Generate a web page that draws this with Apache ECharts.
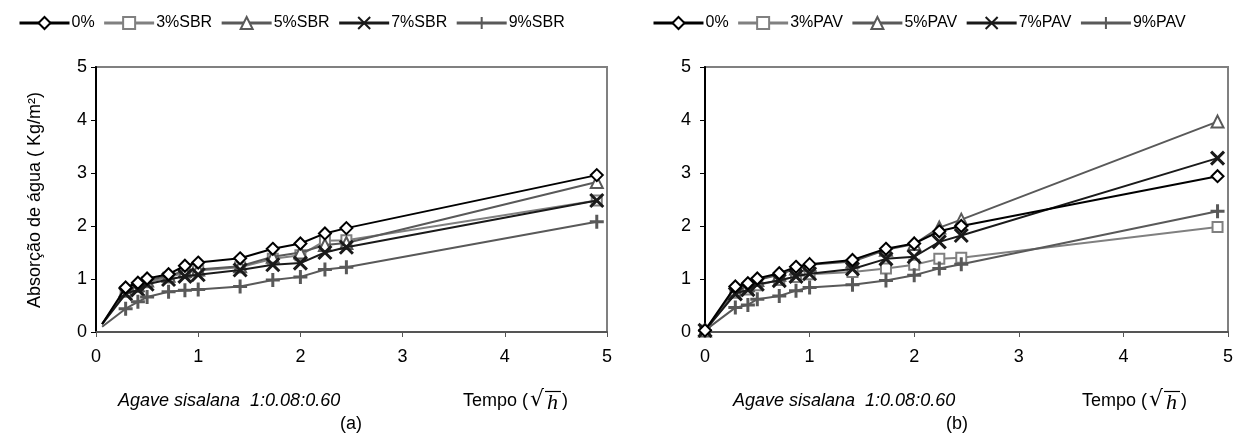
<!DOCTYPE html>
<html>
<head>
<meta charset="utf-8">
<script src="https://cdn.jsdelivr.net/npm/echarts@6/dist/echarts.min.js"></script>
<style>
  html, body { margin: 0; padding: 0; background: #fff; }
  #chart { width: 1241px; height: 436px; }
</style>
</head>
<body>
<div id="chart"></div>
<script>
// tempo (raiz de h)
var timeA = [0.06, 0.29, 0.41, 0.5, 0.71, 0.87, 1.0, 1.41, 1.73, 2.0, 2.24, 2.45, 4.9];
var timeB = [0, 0.29, 0.41, 0.5, 0.71, 0.87, 1.0, 1.41, 1.73, 2.0, 2.24, 2.45, 4.9];

// (a) SBR
var namesA = ['0%', '3%SBR', '5%SBR', '7%SBR', '9%SBR'];
var a0 = [0.15, 0.84, 0.93, 1.01, 1.09, 1.25, 1.31, 1.39, 1.57, 1.67, 1.86, 1.96, 2.96];
var a3 = [0.15, 0.76, 0.85, 0.94, 1.03, 1.12, 1.16, 1.22, 1.38, 1.45, 1.72, 1.73, 2.48];
var a5 = [0.15, 0.79, 0.88, 0.97, 1.06, 1.15, 1.18, 1.24, 1.42, 1.5, 1.64, 1.68, 2.83];
var a7 = [0.15, 0.72, 0.8, 0.9, 0.99, 1.05, 1.08, 1.17, 1.27, 1.3, 1.5, 1.6, 2.48];
var a9 = [0.1, 0.44, 0.57, 0.66, 0.76, 0.79, 0.8, 0.86, 0.98, 1.04, 1.18, 1.22, 2.08];

// (b) PAV
var namesB = ['0%', '3%PAV', '5%PAV', '7%PAV', '9%PAV'];
var b0 = [0.03, 0.86, 0.92, 1.01, 1.11, 1.23, 1.28, 1.36, 1.57, 1.67, 1.9, 2.0, 2.94];
var b3 = [0.03, 0.74, 0.8, 0.88, 0.98, 1.04, 1.09, 1.13, 1.2, 1.27, 1.38, 1.4, 1.98];
var b5 = [0.03, 0.8, 0.88, 0.98, 1.08, 1.2, 1.27, 1.33, 1.55, 1.66, 1.97, 2.12, 3.97];
var b7 = [0.03, 0.72, 0.8, 0.9, 0.97, 1.05, 1.1, 1.19, 1.38, 1.42, 1.7, 1.82, 3.28];
var b9 = [0.03, 0.46, 0.51, 0.62, 0.68, 0.78, 0.84, 0.89, 0.97, 1.07, 1.2, 1.28, 2.28];

var font = 'Liberation Sans, Arial, sans-serif';
var colors = ['#000000', '#808080', '#595959', '#1a1a1a', '#595959'];
var symbols = ['diamond', 'rect', 'triangle', 'path://M0,0L10,10M10,0L0,10', 'path://M5,0L5,10M0,5L10,5'];
var sizes = [12, 10, 12, 13, 14];
var borders = [2, 2, 2, 3, 3];

function mk(name, xs, ys, k, gi, hideFirst) {
  var data = [];
  for (var i = 0; i < xs.length; i++) {
    var item = { value: [xs[i], ys[i]] };
    if (i === 0 && hideFirst) item.symbol = 'none';
    data.push(item);
  }
  return {
    name: name,
    type: 'line',
    xAxisIndex: gi,
    yAxisIndex: gi,
    data: data,
    symbol: symbols[k],
    symbolSize: sizes[k],
    z: 2 + (k === 0 ? 5 : k),
    lineStyle: { color: colors[k], width: 2 },
    itemStyle: { color: '#fff', borderColor: colors[k], borderWidth: borders[k] },
    animation: false
  };
}

function xAxis(gi) {
  return {
    type: 'value', gridIndex: gi, min: 0, max: 5, interval: 1,
    axisLine: { show: true, lineStyle: { color: '#555', width: 2 } },
    axisTick: { show: true, length: 5, lineStyle: { color: '#555', width: 1 } },
    axisLabel: { color: '#000', fontSize: 18, fontFamily: font, margin: 16 },
    splitLine: { show: false }
  };
}
function yAxis(gi, m) {
  return {
    type: 'value', gridIndex: gi, min: 0, max: 5, interval: 1,
    axisLine: { show: true, lineStyle: { color: '#000', width: 2 } },
    axisTick: { show: true, length: 5, lineStyle: { color: '#000', width: 1 } },
    axisLabel: { color: '#000', fontSize: 18, fontFamily: font, margin: m },
    splitLine: { show: false }
  };
}
function legend(left, names) {
  return {
    left: left, top: 10, itemWidth: 50, itemHeight: 15, itemGap: 8,
    data: names,
    lineStyle: { width: 3 },
    textStyle: { color: '#000', fontSize: 16, fontFamily: font, padding: [0, 0, 0, -3] }
  };
}
function tempo(x) {
  return {
    type: 'group', left: x, top: 389,
    children: [
      { type: 'text', x: 0, y: 2, style: { text: 'Tempo (', fontSize: 18, fontFamily: font, fill: '#000' } },
      { type: 'text', x: 67, y: -1, style: { text: '\u221A', fontSize: 22, fontFamily: 'DejaVu Serif', fill: '#000' } },
      { type: 'line', shape: { x1: 82, y1: 1, x2: 98, y2: 1 }, style: { stroke: '#000', lineWidth: 1.2 } },
      { type: 'text', x: 84, y: 2, style: { text: 'h', fontSize: 22, fontStyle: 'italic', fontFamily: 'Liberation Serif', fill: '#000' } },
      { type: 'text', x: 99, y: 2, style: { text: ')', fontSize: 18, fontFamily: font, fill: '#000' } }
    ]
  };
}

var series = [];
var listA = [a0, a3, a5, a7, a9];
var listB = [b0, b3, b5, b7, b9];
for (var k = 0; k < 5; k++) series.push(mk(namesA[k], timeA, listA[k], k, 0, true));
for (var k = 0; k < 5; k++) series.push(mk(namesB[k], timeB, listB[k], k, 1, false));

var option = {
  animation: false,
  backgroundColor: '#fff',
  grid: [
    { left: 96, right: 634, top: 67, bottom: 104, show: true, borderColor: '#808080', borderWidth: 2 },
    { left: 705, right: 13, top: 67, bottom: 104, show: true, borderColor: '#808080', borderWidth: 2 }
  ],
  legend: [legend(13, namesA), legend(647, namesB)],
  xAxis: [xAxis(0), xAxis(1)],
  yAxis: [yAxis(0, 9), yAxis(1, 14)],
  series: series,
  graphic: [
    { type: 'text', x: 35, y: 200, rotation: Math.PI / 2,
      style: { text: 'Absorção de água ( Kg/m²)', fontSize: 18, fontFamily: font, fill: '#000', align: 'center', verticalAlign: 'middle' } },
    { type: 'text', left: 118, top: 392,
      style: { text: 'Agave sisalana  1:0.08:0.60', fontSize: 18, fontStyle: 'italic', fontFamily: font, fill: '#000' } },
    tempo(463),
    { type: 'text', left: 340, top: 415, style: { text: '(a)', fontSize: 18, fontFamily: font, fill: '#000' } },
    { type: 'text', left: 733, top: 392,
      style: { text: 'Agave sisalana  1:0.08:0.60', fontSize: 18, fontStyle: 'italic', fontFamily: font, fill: '#000' } },
    tempo(1082),
    { type: 'text', left: 946, top: 415, style: { text: '(b)', fontSize: 18, fontFamily: font, fill: '#000' } }
  ]
};

var myChart = echarts.init(document.getElementById('chart'));
myChart.setOption(option);
</script>
</body>
</html>
